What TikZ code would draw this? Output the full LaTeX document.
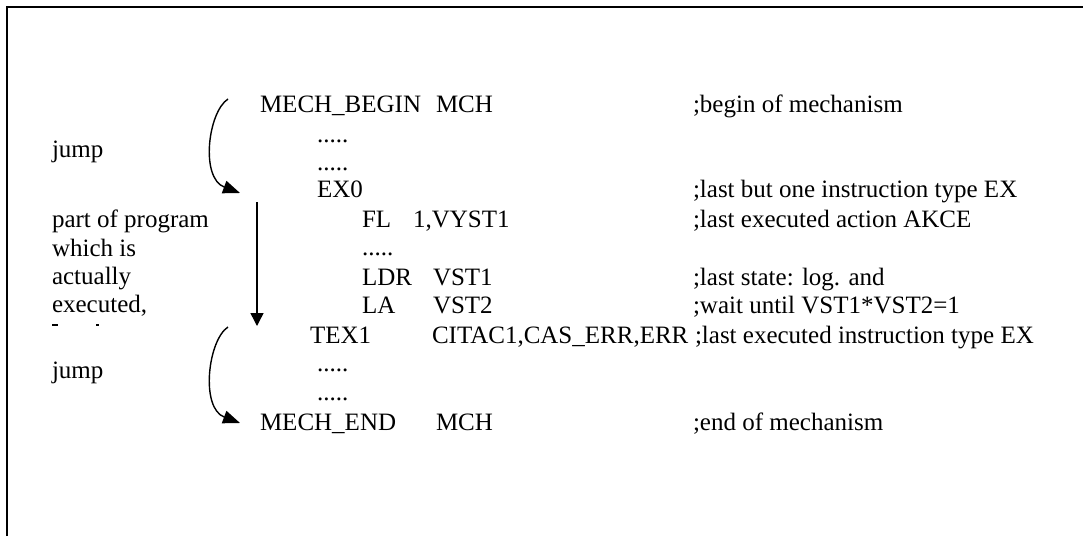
\documentclass[tikz,border=0pt]{standalone}
\usepackage{fontspec}
\setmainfont{Liberation Serif}
\usetikzlibrary{arrows.meta}
\begin{document}
\begin{tikzpicture}[x=1pt,y=-1pt,
  every node/.style={inner sep=0pt,outer sep=0pt,anchor=base west,
    font=\fontsize{25}{29}\selectfont},
  frame/.style={line width=2pt},
  flow/.style={line width=1.4pt},
  jumparrow/.style={flow,-{Triangle[length=17pt,width=13pt]}},
  runarrow/.style={flow,-{Triangle[length=13pt,width=13pt]}}]
\useasboundingbox (0,0) rectangle (1083,536);
% open frame: top and left edges only
\draw[frame] (7,536) -- (7,7) -- (1083,7);

% left column of explanations
\node (jumpA) at (52,157) {jump};
\node (partA) at (52,227) {part of program};
\node (partB) at (52,256) {which is};
\node (partC) at (52,284) {actually};
\node (partD) at (52,312) {executed,};
% cut-off tops of the following line
\fill (52,324) rectangle (58,326);
\fill (96,324) rectangle (99,326);
\node (jumpB) at (52,378) {jump};

% program listing
\node (begin)  at (260,112) {MECH\_BEGIN};
\node (beginA) at (436,112) {MCH};
\node (beginC) at (693,112) {;begin of mechanism};
\node (dotsA)  at (317,142) {.....};
\node (dotsB)  at (317,170) {.....};
\node (exo)    at (317,197) {EX0};
\node (exoC)   at (693,197) {;last but one instruction type EX};
\node (fl)     at (362,227) {FL};
\node (flA)    at (413,227) {1,VYST1};
\node (flC)    at (693,227) {;last executed action AKCE};
\node (dotsC)  at (362,255) {.....};
\node (ldr)    at (362,285) {LDR};
\node (ldrA)   at (433,285) {VST1};
\node (ldrC)   at (693,285) {;last state: log. and};
\node (la)     at (362,313) {LA};
\node (laA)    at (433,313) {VST2};
\node (laC)    at (693,313) {;wait until VST1*VST2=1};
\node (tex)    at (310,343) {TEX1};
\node (texA)   at (432,343) {CITAC1,CAS\_ERR,ERR};
\node (texC)   at (695,343) {;last executed instruction type EX};
\node (dotsD)  at (317,371) {.....};
\node (dotsE)  at (317,400) {.....};
\node (mend)   at (260,430) {MECH\_END};
\node (mendA)  at (436,430) {MCH};
\node (mendC)  at (693,430) {;end of mechanism};

% arrows
\coordinate (jA0) at (228,99);
\coordinate (jA1) at (240,193);
\coordinate (run0) at (257,202);
\coordinate (run1) at (257,326);
\coordinate (jB0) at (228,327);
\coordinate (jB1) at (240,423);
\draw[jumparrow] (jA0) .. controls (208,112) and (200,178) .. (jA1);
\draw[runarrow] (run0) -- (run1);
\draw[jumparrow] (jB0) .. controls (208,340) and (200,408) .. (jB1);
\end{tikzpicture}
\end{document}
